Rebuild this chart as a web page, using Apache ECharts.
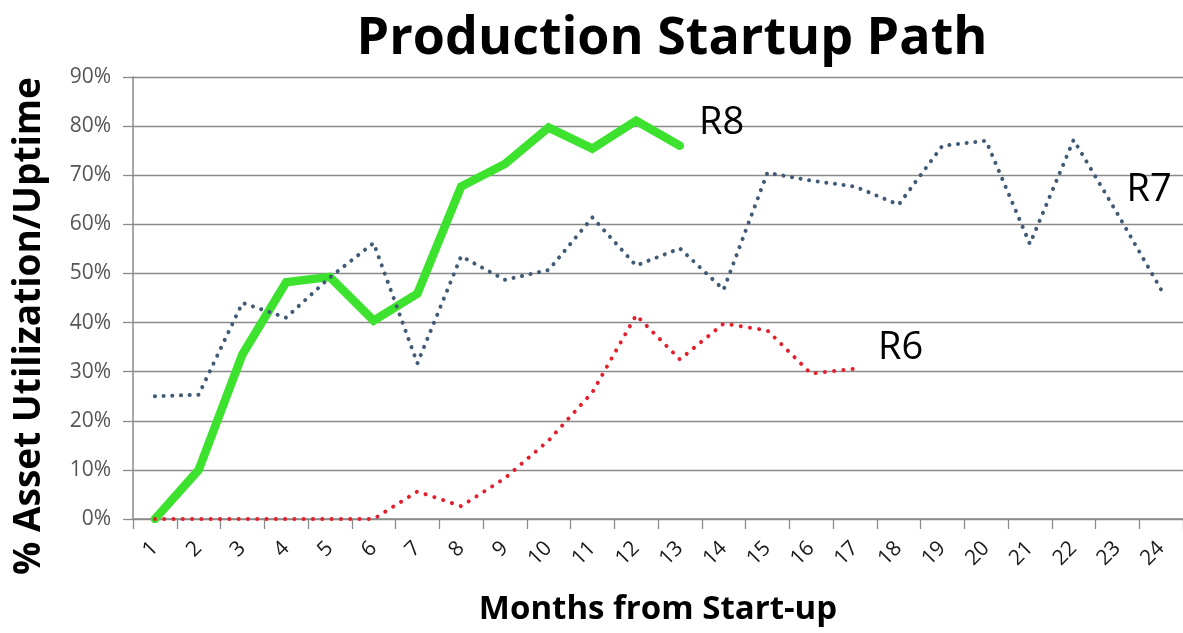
<!DOCTYPE html>
<html>
<head>
<meta charset="utf-8">
<script src="https://cdn.jsdelivr.net/npm/echarts@6/dist/echarts.min.js"></script>
<style>
  html, body { margin: 0; padding: 0; background: #ffffff; }
  #chart { width: 1183px; height: 633px; }
</style>
</head>
<body>
<div id="chart"></div>
<script>
// Months since start-up (category axis)
const months = ['1','2','3','4','5','6','7','8','9','10','11','12',
                '13','14','15','16','17','18','19','20','21','22','23','24'];

// Asset utilization / uptime (%) per line
const r8 = [0, 10, 33.5, 48.2, 49.3, 40.4, 45.9, 67.7, 72.3, 79.7, 75.4, 81.1, 76];
const r7 = [25, 25.3, 44, 41, 49.2, 56.2, 31.7, 53.5, 48.7, 50.7, 61.4, 51.6,
            55.1, 46.7, 70.5, 68.9, 67.7, 64, 76, 77, 56, 77.2, 62.2, 46.7];
const r6 = [0, 0, 0, 0, 0, 0, 5.6, 2.6, 8.3, 16, 25.8, 41.5, 32.5, 39.8, 38.4, 29.6, 30.6];

// Y axis range and step (percent)
const yMin = 0, yMax = 90, yStep = 10;

// Where each line's name is written (month, value)
const tagR8 = ['14', 80.7];
const tagR7 = ['24', 66.9];
const tagR6 = ['18', 34.8];

const chart = echarts.init(document.getElementById('chart'), null, { renderer: 'canvas' });

const baseFont = '"Open Sans", "Noto Sans", "Liberation Sans", sans-serif';
const gridGray = '#8a8a8a';

function lineTag(text, coord, offset) {
  return {
    symbol: 'circle',
    symbolSize: 0,
    itemStyle: { color: 'rgba(0,0,0,0)' },
    label: {
      show: true,
      position: 'inside',
      offset: offset,
      formatter: text,
      color: '#000000',
      fontFamily: baseFont,
      fontSize: 38
    },
    data: [{ coord: coord, value: text }],
    silent: true,
    animation: false
  };
}

const option = {
  animation: false,
  backgroundColor: '#ffffff',
  title: {
    text: 'Production Startup Path',
    left: 667,
    top: 8,
    textAlign: 'center',
    textStyle: {
      fontFamily: baseFont,
      fontWeight: 'bold',
      fontSize: 52,
      color: '#000000'
    }
  },
  grid: { left: 133, right: -1, top: 77, bottom: 114, containLabel: false },
  xAxis: {
    type: 'category',
    data: months,
    boundaryGap: true,
    name: 'Months from Start-up',
    nameLocation: 'middle',
    nameGap: 74,
    nameTextStyle: {
      fontFamily: baseFont,
      fontWeight: 'bold',
      fontSize: 33,
      color: '#000000'
    },
    axisLine: { show: true, lineStyle: { color: gridGray, width: 1.5 } },
    axisTick: { show: true, length: 10, lineStyle: { color: gridGray, width: 1.3 } },
    axisLabel: {
      rotate: 45,
      margin: 26,
      interval: 0,
      fontFamily: baseFont,
      fontSize: 21,
      color: '#1a1a1a'
    },
    splitLine: { show: false }
  },
  yAxis: {
    type: 'value',
    min: yMin,
    max: yMax,
    interval: yStep,
    axisLine: { show: true, lineStyle: { color: gridGray, width: 1.5 } },
    axisTick: { show: true, length: 10, lineStyle: { color: gridGray, width: 1.3 } },
    axisLabel: {
      margin: 22,
      formatter: '{value}%',
      fontFamily: baseFont,
      fontSize: 21,
      color: '#555555'
    },
    splitLine: { show: true, lineStyle: { color: gridGray, width: 1.4 } }
  },
  graphic: [
    {
      type: 'text',
      x: 29,
      y: 326,
      rotation: Math.PI / 2,
      silent: true,
      style: {
        text: '% Asset Utilization/Uptime',
        font: 'bold 37px ' + baseFont,
        fill: '#000000',
        textAlign: 'center',
        textVerticalAlign: 'middle'
      }
    }
  ],
  series: [
    {
      name: 'R8',
      type: 'line',
      data: r8,
      showSymbol: false,
      symbol: 'none',
      z: 2,
      lineStyle: { color: '#3de22e', width: 8.5, cap: 'round', join: 'miter' },
      markPoint: lineTag('R8', tagR8, [-2, 0])
    },
    {
      name: 'R7',
      type: 'line',
      data: r7,
      showSymbol: false,
      symbol: 'none',
      z: 3,
      lineStyle: { color: '#415a75', width: 4, type: [0.1, 8.6], cap: 'round', join: 'round' },
      markPoint: lineTag('R7', tagR7, [-12, 0])
    },
    {
      name: 'R6',
      type: 'line',
      data: r6,
      showSymbol: false,
      symbol: 'none',
      z: 4,
      lineStyle: { color: '#e3202c', width: 4, type: [0.1, 9.2], cap: 'round', join: 'round' },
      markPoint: lineTag('R6', tagR6, [2, 0])
    }
  ]
};

chart.setOption(option);
</script>
</body>
</html>
